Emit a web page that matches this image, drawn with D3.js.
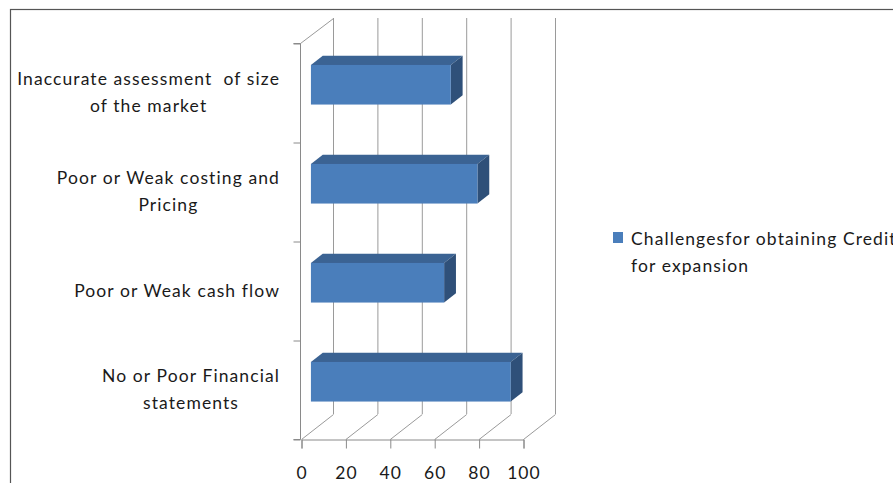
<!DOCTYPE html>
<html>
<head>
<meta charset="utf-8">
<script src="https://cdn.jsdelivr.net/npm/d3@7"></script>
<style>
  html, body { margin: 0; padding: 0; background: #fff; }
  svg { display: block; }
  text { font-family: Lato, "Open Sans", sans-serif; fill: #1a1a1a; white-space: pre; }
</style>
</head>
<body>
<svg id="chart" width="893" height="483"></svg>
<script>
// Category labels (bottom to top, as the value axis lists them)
const categories = [
  "No or Poor Financial\nstatements",
  "Poor or Weak cash flow",
  "Poor or Weak costing and\nPricing",
  "Inaccurate assessment  of size\nof the market"
];
const values = [90, 60, 75, 63];
const seriesName = "Challengesfor obtaining Credit\nfor expansion";
const xTicks = [0, 20, 40, 60, 80, 100];

const svg = d3.select("#chart");

// plot geometry (front plane) and the depth offset of the 3D box
const front = { left: 301, right: 523, top: 43, bottom: 439 };
const depth = { dx: 32, dy: -25 };
const barDepth = { from: 0.31, to: 0.68 };

const x = d3.scaleLinear().domain([0, 100]).range([front.left, front.right]);
const y = d3.scaleBand().domain(categories).range([front.bottom, front.top]);
const yEdge = d3.scaleLinear().domain([0, categories.length]).range([front.bottom, front.top]);

const gridColor = "#9a9a9a";
const axisColor = "#8a8a8a";
const fontSize = 17.5;
const spacing = 1.1;

// outer chart frame
svg.append("rect")
  .attr("x", 10.5).attr("y", 9.5)
  .attr("width", 1000).attr("height", 1000)
  .attr("fill", "none").attr("stroke", "#555").attr("stroke-width", 1.2);

const grid = svg.append("g").attr("fill", "none").attr("stroke-width", 1);

// back wall vertical gridlines
grid.selectAll("line.back").data(xTicks).join("line")
  .attr("class", "back")
  .attr("x1", d => x(d) + depth.dx + 0.5).attr("x2", d => x(d) + depth.dx + 0.5)
  .attr("y1", front.top + depth.dy).attr("y2", front.bottom + depth.dy)
  .attr("stroke", gridColor);

// floor gridlines running into the depth
grid.selectAll("line.floor").data(xTicks).join("line")
  .attr("class", "floor")
  .attr("x1", d => x(d) + 0.5).attr("y1", front.bottom + 0.5)
  .attr("x2", d => x(d) + depth.dx + 0.5).attr("y2", front.bottom + depth.dy + 0.5)
  .attr("stroke", gridColor);

// left wall top edge
grid.append("line")
  .attr("x1", front.left - 0.5).attr("y1", front.top + 0.5)
  .attr("x2", front.left + depth.dx + 0.5).attr("y2", front.top + depth.dy + 0.5)
  .attr("stroke", gridColor);

// front value axis
const xAxis = d3.axisBottom(x).tickValues(xTicks).tickSize(9).tickPadding(18);
const gx = svg.append("g")
  .attr("transform", `translate(0.5,${front.bottom + 0.5})`)
  .call(xAxis);
gx.selectAll("path, line").attr("stroke", axisColor);
gx.selectAll("text")
  .attr("font-size", fontSize).attr("letter-spacing", spacing)
  .style("font-family", "Lato, 'Open Sans', sans-serif").attr("fill", "#1a1a1a");

// category axis on the left wall, ticks at band edges
const yAxis = d3.axisLeft(yEdge).ticks(categories.length).tickSize(7).tickFormat("");
const gy = svg.append("g")
  .attr("transform", `translate(${front.left - 0.5},0.5)`)
  .call(yAxis);
gy.selectAll("path, line").attr("stroke", axisColor);
gy.select("path").attr("d", `M-7,${front.top}H0V${front.bottom}H-7`);

// category labels, each block centred and right-aligned against the axis
const labelRight = 280;
const lineGap = 26.5;
const labels = svg.append("g").attr("font-size", fontSize).attr("letter-spacing", spacing);
categories.forEach(c => {
  const lines = c.split("\n");
  const g = labels.append("g");
  const ts = lines.map((l, i) => g.append("text")
    .attr("y", y(c) + y.bandwidth() / 2 + (i - (lines.length - 1) / 2) * lineGap)
    .attr("dy", "0.35em")
    .attr("text-anchor", "middle")
    .text(l));
  const w = d3.max(ts, t => t.node().getComputedTextLength());
  ts.forEach(t => t.attr("x", labelRight - w / 2));
});

// 3D bars
const faceFront = "#4a7ebb";
const faceTop = "#3b6393";
const faceSide = "#2f5079";
const bandH = y.bandwidth() / 2.5;

const bars = svg.append("g");
categories.forEach((c, i) => {
  const v = values[i];
  const cy = y(c) + y.bandwidth() / 2;
  const ox = depth.dx * barDepth.from, oy = depth.dy * barDepth.from;
  const bx = depth.dx * (barDepth.to - barDepth.from), by = depth.dy * (barDepth.to - barDepth.from);
  const x0 = x(0) + ox, x1 = x(v) + ox;
  const y0 = cy - bandH / 2 + oy, y1 = cy + bandH / 2 + oy;
  const g = bars.append("g");
  // top face
  g.append("path")
    .attr("d", `M${x0},${y0}L${x0 + bx},${y0 + by}L${x1 + bx},${y0 + by}L${x1},${y0}Z`)
    .attr("fill", faceTop);
  // right end face
  g.append("path")
    .attr("d", `M${x1},${y0}L${x1 + bx},${y0 + by}L${x1 + bx},${y1 + by}L${x1},${y1}Z`)
    .attr("fill", faceSide);
  // front face
  g.append("rect")
    .attr("x", x0).attr("y", y0)
    .attr("width", x1 - x0).attr("height", y1 - y0)
    .attr("fill", faceFront);
});

// legend
const legend = svg.append("g");
legend.append("rect")
  .attr("x", 613).attr("y", 232).attr("width", 10).attr("height", 11)
  .attr("fill", faceFront);
seriesName.split("\n").forEach((l, i) => {
  legend.append("text")
    .attr("x", 631).attr("y", 239 + i * lineGap)
    .attr("dy", "0.35em")
    .attr("font-size", fontSize).attr("letter-spacing", spacing)
    .text(l);
});
</script>
</body>
</html>
